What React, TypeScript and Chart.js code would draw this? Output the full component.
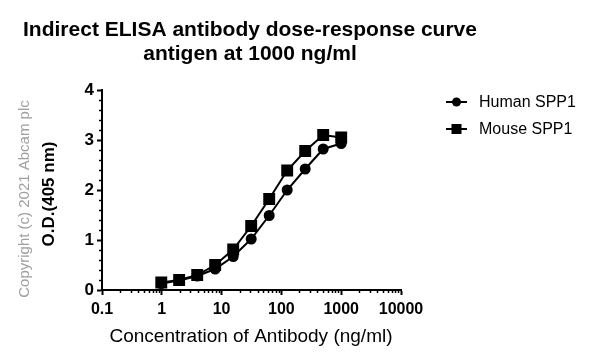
import React, { useEffect, useRef } from "react";
import { Chart, registerables } from "chart.js";

Chart.register(...registerables);

const concentrations = [1000, 500, 250, 125, 62.5, 31.25, 15.63, 7.81, 3.91, 1.95, 0.98];
const humanSPP1 = [2.93, 2.82, 2.42, 2.0, 1.49, 1.02, 0.67, 0.42, 0.28, 0.19, 0.13];
const mouseSPP1 = [3.05, 3.1, 2.78, 2.39, 1.82, 1.28, 0.81, 0.5, 0.3, 0.2, 0.15];
const xTickValues = [0.1, 1, 10, 100, 1000, 10000];
const yTickValues = [0, 1, 2, 3, 4];
const titleLines = ["Indirect ELISA antibody dose-response curve", "antigen at 1000 ng/ml"];
const seriesNames = ["Human SPP1", "Mouse SPP1"];

const FONT = "'Liberation Sans', Arial, sans-serif";

const decorPlugin = {
  id: "decor",
  afterDraw(chart: any) {
    const ctx = chart.ctx;
    const xs = chart.scales.x;
    const ys = chart.scales.y;
    const area = chart.chartArea;
    ctx.save();
    ctx.strokeStyle = "#000";
    ctx.lineWidth = 1.5;
    // minor x ticks
    for (let d = -1; d < 4; d++) {
      for (let m = 2; m <= 9; m++) {
        const v = m * Math.pow(10, d);
        const px = Math.round(xs.getPixelForValue(v)) + 0.5;
        ctx.beginPath();
        ctx.moveTo(px, area.bottom);
        ctx.lineTo(px, area.bottom + 3);
        ctx.stroke();
      }
    }
    // minor y ticks
    for (let v = 0.2; v < 4; v += 0.2) {
      if (Math.abs(v - Math.round(v)) < 0.01) continue;
      const py = Math.round(ys.getPixelForValue(v)) + 0.5;
      ctx.beginPath();
      ctx.moveTo(area.left, py);
      ctx.lineTo(area.left - 3, py);
      ctx.stroke();
    }
    // title
    ctx.fillStyle = "#000";
    ctx.textAlign = "center";
    ctx.textBaseline = "alphabetic";
    ctx.font = `bold 21px ${FONT}`;
    ctx.fillText(titleLines[0], 250, 36);
    ctx.fillText(titleLines[1], 250, 60);
    // x title
    ctx.font = `19px ${FONT}`;
    ctx.fillText("Concentration of Antibody (ng/ml)", 251, 342);
    // y title
    ctx.save();
    ctx.translate(54, 194);
    ctx.rotate(-Math.PI / 2);
    ctx.font = `bold 17px ${FONT}`;
    ctx.fillText("O.D.(405 nm)", 0, 0);
    ctx.restore();
    // copyright
    ctx.save();
    ctx.translate(29, 199);
    ctx.rotate(-Math.PI / 2);
    ctx.fillStyle = "#a0a0a0";
    ctx.font = `15px ${FONT}`;
    ctx.fillText("Copyright (c) 2021 Abcam plc", 0, 0);
    ctx.restore();
    // legend
    const items = [
      { name: seriesNames[0], y: 102, style: "circle" },
      { name: seriesNames[1], y: 129, style: "rect" },
    ];
    ctx.textAlign = "left";
    ctx.textBaseline = "middle";
    ctx.font = `16px ${FONT}`;
    items.forEach((it) => {
      ctx.strokeStyle = "#000";
      ctx.lineWidth = 2;
      ctx.beginPath();
      ctx.moveTo(446, it.y);
      ctx.lineTo(467, it.y);
      ctx.stroke();
      ctx.fillStyle = "#000";
      if (it.style === "circle") {
        ctx.beginPath();
        ctx.arc(456.5, it.y, 4.5, 0, Math.PI * 2);
        ctx.fill();
      } else {
        ctx.fillRect(451.5, it.y - 5, 10, 10);
      }
      ctx.fillText(it.name, 479, it.y + 1);
    });
    ctx.restore();
  },
};

export default function App() {
  const ref = useRef<HTMLCanvasElement>(null);
  useEffect(() => {
    if (!ref.current) return;
    const chart = new Chart(ref.current, {
      type: "line",
      data: {
        datasets: [
          {
            label: seriesNames[0],
            data: concentrations.map((c, i) => ({ x: c, y: humanSPP1[i] })),
            borderColor: "#000",
            backgroundColor: "#000",
            borderWidth: 2,
            pointStyle: "circle",
            pointRadius: 4.5,
            pointHoverRadius: 4.5,
          },
          {
            label: seriesNames[1],
            data: concentrations.map((c, i) => ({ x: c, y: mouseSPP1[i] })),
            borderColor: "#000",
            backgroundColor: "#000",
            borderWidth: 2,
            pointStyle: "rect",
            pointRadius: 7,
            pointHoverRadius: 7,
          },
        ],
      },
      options: {
        responsive: false,
        animation: false,
        events: [],
        layout: { padding: { left: 0, top: 90, right: 191, bottom: 0 } },
        plugins: { legend: { display: false }, title: { display: false }, tooltip: { enabled: false } },
        scales: {
          x: {
            type: "logarithmic",
            min: 0.1,
            max: 10000,
            afterBuildTicks: (s: any) => {
              s.ticks = xTickValues.map((v) => ({ value: v, major: true }));
            },
            afterFit: (s: any) => {
              s.height = 71;
            },
            border: { display: true, color: "#000", width: 2 },
            grid: { drawOnChartArea: false, drawTicks: true, tickLength: 5, tickWidth: 2, tickColor: "#000", color: "#000" },
            ticks: {
              autoSkip: false,
              maxRotation: 0,
              color: "#000",
              padding: 5,
              font: { family: FONT, size: 16, weight: "bold" },
              callback: (v: any) => String(v),
            },
          },
          y: {
            type: "linear",
            min: 0,
            max: 4,
            afterBuildTicks: (s: any) => {
              s.ticks = yTickValues.map((v) => ({ value: v }));
            },
            afterFit: (s: any) => {
              s.width = 102;
            },
            border: { display: true, color: "#000", width: 2 },
            grid: { drawOnChartArea: false, drawTicks: true, tickLength: 5, tickWidth: 2, tickColor: "#000", color: "#000" },
            ticks: {
              color: "#000",
              padding: 3,
              font: { family: FONT, size: 17, weight: "bold" },
              callback: (v: any) => String(v),
            },
          },
        },
      },
      plugins: [decorPlugin],
    } as any);
    return () => chart.destroy();
  }, []);
  return (
    <div style={{ position: "absolute", left: 0, top: 0, width: 592, height: 361, background: "#fff" }}>
      <canvas ref={ref} width={592} height={361} style={{ width: 592, height: 361, display: "block" }} />
    </div>
  );
}
